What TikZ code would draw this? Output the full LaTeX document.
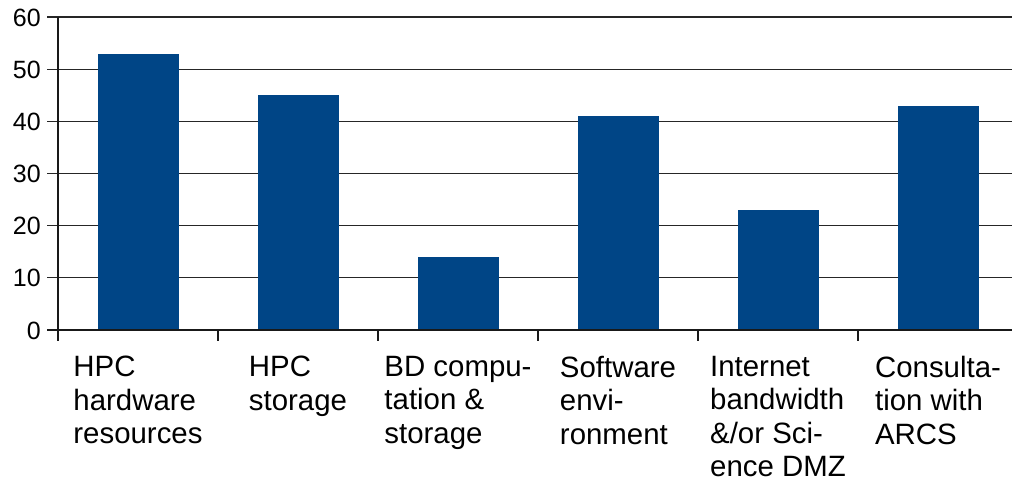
\documentclass[tikz,border=0pt]{standalone}
\usepackage{fontspec}
\setmainfont{Liberation Sans}
\definecolor{barblue}{HTML}{004586}
\tikzset{
  gridline/.style={draw=black!85, line width=1.1pt},
  axisline/.style={draw=black!90, line width=1.3pt},
  bar/.style={fill=barblue, draw=none},
  ylab/.style={anchor=base east, inner sep=0pt, font=\fontsize{25}{29}\selectfont},
  catlab/.style={anchor=north, inner sep=0pt, align=left, font=\fontsize{29.4}{33.3}\selectfont},
}
\begin{document}
\begin{tikzpicture}[x=1pt, y=-1pt]
\useasboundingbox (0,0) rectangle (1012,482);
% horizontal grid lines with their tick marks
\foreach \v in {1,...,6}
  \draw[gridline] (47,{330-\v*52.1667}) -- (1018,{330-\v*52.1667});
% bars
\foreach \val [count=\i] in {53,45,14,41,23,43}
  \fill[bar] ({58+160*(\i-1)+40},330) rectangle ++(81,{-\val*5.21667});
% axes
\draw[axisline] (58,17) -- (58,341);
\draw[axisline] (47,330) -- (1018,330);
\foreach \i in {1,...,6}
  \draw[axisline] ({58+160*\i},330) -- ({58+160*\i},341);
% value labels
\foreach \v in {0,...,6}
  \node[ylab] (y\v) at (41,{330-\v*52.1667+9}) {\the\numexpr\v*10\relax};
% category labels
\node[catlab] (c1) at (138,356) {HPC\\hardware\\resources};
\node[catlab] (c2) at (298,356) {HPC\\storage};
\node[catlab] (c3) at (458,356) {BD compu-\\tation \&\\storage};
\node[catlab] (c4) at (618,356) {Software\\envi-\\ronment};
\node[catlab] (c5) at (778,356) {Internet\\bandwidth\\\&/or Sci-\\ence DMZ};
\node[catlab] (c6) at (938,356) {Consulta-\\tion with\\ARCS};
\end{tikzpicture}
\end{document}
